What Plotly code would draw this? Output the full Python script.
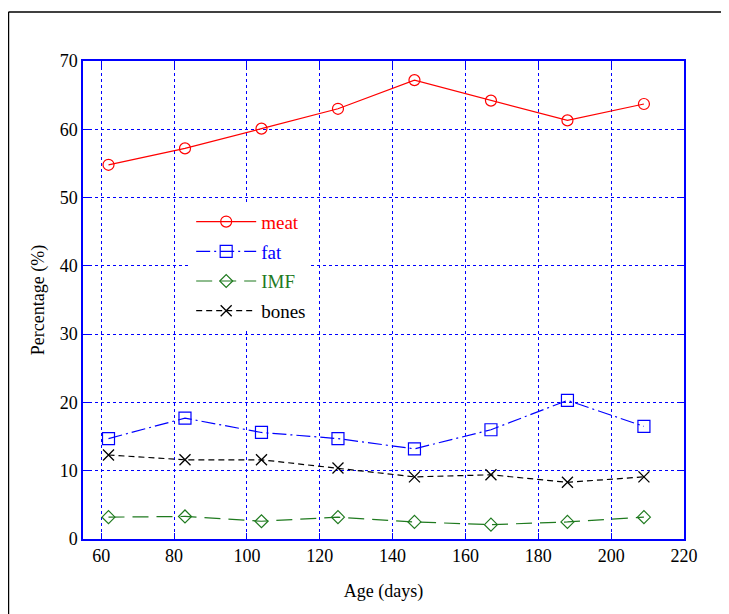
import plotly.graph_objects as go

age_days = [62, 83, 104, 125, 146, 167, 188, 209]
meat = [54.8, 57.2, 60.1, 63.0, 67.2, 64.2, 61.3, 63.7]
fat = [14.7, 17.7, 15.6, 14.7, 13.2, 16.0, 20.3, 16.5]
imf = [3.2, 3.3, 2.6, 3.2, 2.5, 2.1, 2.5, 3.2]
bones = [12.3, 11.6, 11.6, 10.4, 9.1, 9.4, 8.3, 9.1]

x_ticks = [60, 80, 100, 120, 140, 160, 180, 200, 220]
y_ticks = [0, 10, 20, 30, 40, 50, 60, 70]

FONT = "Liberation Serif, Times New Roman, serif"
GREEN = "#1f7a1f"


def colored(label, color):
    return f"<span style='color:{color}'>{label}</span>"


fig = go.Figure()
fig.add_trace(go.Scatter(
    x=age_days, y=meat, name=colored("meat", "red"), mode="lines+markers", legendgroup="a",
    line=dict(color="red", width=1.2),
    marker=dict(symbol="circle-open", size=11, color="red", line=dict(width=1.2)),
))
fig.add_trace(go.Scatter(
    x=age_days, y=fat, name=colored("fat", "blue"), mode="lines+markers", legendgroup="b",
    line=dict(color="blue", width=1.2, dash="14px,4px,2px,4px"),
    marker=dict(symbol="square-open", size=12, color="blue", line=dict(width=1.2)),
))
fig.add_trace(go.Scatter(
    x=age_days, y=imf, name=colored("IMF", GREEN), mode="lines+markers", legendgroup="c",
    line=dict(color=GREEN, width=1.2, dash="16px,8px"),
    marker=dict(symbol="diamond-open", size=10, color=GREEN, line=dict(width=1.2)),
))
fig.add_trace(go.Scatter(
    x=age_days, y=bones, name=colored("bones", "black"), mode="lines+markers", legendgroup="d",
    line=dict(color="black", width=1.2, dash="6px,4px"),
    marker=dict(symbol="x-thin-open", size=11, color="black", line=dict(width=1.3)),
))

axis_common = dict(
    showline=True, linecolor="blue", linewidth=1.5, mirror="ticks",
    ticks="inside", ticklen=6, tickcolor="blue", tickwidth=1.2,
    showgrid=True, gridcolor="blue", griddash="dot", gridwidth=1,
    zeroline=False,
    tickfont=dict(family=FONT, size=18, color="black"),
)

fig.update_xaxes(
    range=[55, 220], tickvals=x_ticks, ticktext=[str(v) for v in x_ticks],
    title=dict(text="Age (days)", font=dict(family=FONT, size=18, color="black"), standoff=19),
    **axis_common,
)
fig.update_yaxes(
    range=[0, 70], tickvals=y_ticks, ticktext=[str(v) for v in y_ticks],
    title=dict(text="Percentage (%)", font=dict(family=FONT, size=18, color="black"), standoff=10),
    **axis_common,
)

# figure frame (top and left edges)
fig.add_shape(type="line", xref="paper", yref="paper",
              x0=-0.124, x1=1.2, y0=1.1025, y1=1.1025,
              line=dict(color="black", width=1.5))
fig.add_shape(type="line", xref="paper", yref="paper",
              x0=-0.124, x1=-0.124, y0=-0.3, y1=1.1025,
              line=dict(color="black", width=1.5))

fig.update_layout(
    width=729, height=614,
    margin=dict(l=75, r=53, t=53, b=83),
    plot_bgcolor="white", paper_bgcolor="white",
    font=dict(family=FONT, size=18, color="black"),
    legend=dict(
        x=0.18, y=0.7035, xanchor="left", yanchor="top",
        bgcolor="white", borderwidth=0,
        tracegroupgap=2, itemwidth=60,
        font=dict(family=FONT, size=19),
    ),
    showlegend=True,
)

fig.write_html("out.html")
